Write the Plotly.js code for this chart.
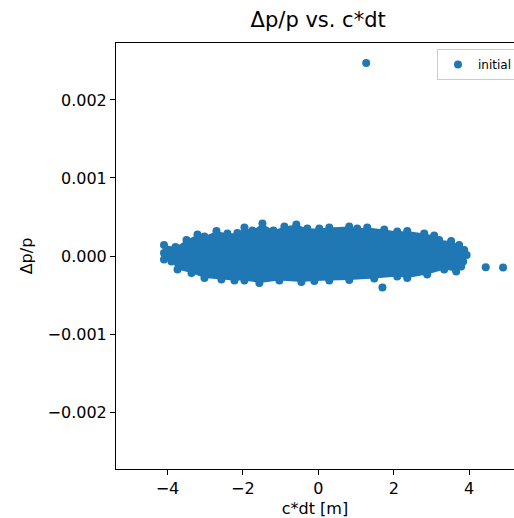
<!DOCTYPE html>
<html>
<head>
<meta charset="utf-8">
<script src="https://cdn.plot.ly/plotly-3.0.1.min.js"></script>
<style>html,body{margin:0;padding:0;background:#fff;overflow:hidden}</style>
</head>
<body>
<div id="chart" style="width:514px;height:518px"></div>
<script>
// Outline of the dense particle cloud (marker centres)
const cloudX = [-4.093, -3.788, -3.497, -3.205, -3.020, -2.702, -2.411, -2.146, -1.960, -1.748,
  -1.483, -1.192, -0.901, -0.583, -0.291, 0.026, 0.291, 0.821, 1.033, 1.298,
  1.748, 2.093, 2.358, 2.808, 3.073, 3.205, 3.523, 3.735, 3.868, 3.934,
  3.841, 3.788, 3.656, 3.338, 2.887, 2.358, 2.093, 1.483, 0.821, 0.291,
  -0.106, -0.450, -1.033, -1.563, -1.960, -2.225, -2.570, -3.020, -3.364, -3.735,
  -3.894, -4.093, -4.093];
const cloudY = [0.000141, 0.000115, 0.000205, 0.000275, 0.000249, 0.000320, 0.000288, 0.000294, 0.000365, 0.000326,
  0.000416, 0.000326, 0.000377, 0.000403, 0.000352, 0.000352, 0.000365, 0.000377, 0.000352, 0.000365,
  0.000339, 0.000313, 0.000320, 0.000288, 0.000262, 0.000205, 0.000192, 0.000141, 0.000077, 0.000013,
  -0.000070, -0.000134, -0.000198, -0.000173, -0.000237, -0.000281, -0.000262, -0.000288, -0.000307, -0.000313,
  -0.000320, -0.000333, -0.000313, -0.000345, -0.000313, -0.000313, -0.000301, -0.000281, -0.000217, -0.000173,
  -0.000070, -0.000045, 0.000038];
// Isolated particles
const outlierX = [1.27, 4.44, 4.90, 1.70];
const outlierY = [0.002474, -0.000143, -0.000147, -0.000403];
const seriesName = "initial";
const xTickVals = [-4, -2, 0, 2, 4];
const xTickText = ["\u22124", "\u22122", "0", "2", "4"];
const yTickVals = [-0.002, -0.001, 0, 0.001, 0.002];
const yTickText = ["\u22120.002", "\u22120.001", "0.000", "0.001", "0.002"];

const blue = "#1f77b4";
const font = "DejaVu Sans, sans-serif";

const traces = [
  {
    type: "scatter", mode: "markers", x: cloudX, y: cloudY,
    fill: "toself", fillcolor: blue,
    marker: {color: blue, size: 8, line: {width: 0}},
    showlegend: false, hoverinfo: "skip"
  },
  {
    type: "scatter", mode: "markers", x: outlierX, y: outlierY, name: seriesName,
    marker: {color: blue, size: 8, line: {width: 0}}
  }
];

const layout = {
  width: 514, height: 518,
  margin: {l: 116, r: 0, t: 43, b: 49, pad: 0, autoexpand: false},
  paper_bgcolor: "#fff", plot_bgcolor: "#fff",
  font: {family: font, size: 16, color: "#000"},
  title: {text: "\u0394p/p vs. c*dt", font: {family: font, size: 21, color: "#000"},
          x: 0.619, xanchor: "center", y: 0.962, yanchor: "middle", yref: "container"},
  xaxis: {
    range: [-5.366, 5.19], tickvals: xTickVals, ticktext: xTickText,
    showgrid: false, zeroline: false, showline: true, linecolor: "#000", linewidth: 1,
    mirror: true, ticks: "outside", ticklen: 5, tickcolor: "#000", tickwidth: 1,
    tickfont: {family: font, size: 16, color: "#000"},
    title: {text: "c*dt [m]", font: {family: font, size: 16, color: "#000"}, standoff: 6},
    automargin: false
  },
  yaxis: {
    range: [-0.00273, 0.00273], tickvals: yTickVals, ticktext: yTickText,
    showgrid: false, zeroline: false, showline: true, linecolor: "#000", linewidth: 1,
    ticks: "outside", ticklen: 5, tickcolor: "#000", tickwidth: 1,
    tickfont: {family: font, size: 16, color: "#000"},
    title: {text: "\u0394p/p", font: {family: font, size: 16, color: "#000"}, standoff: 10},
    automargin: false
  },
  legend: {
    x: 0.8065, y: 0.986, xanchor: "left", yanchor: "top",
    bgcolor: "#fff", bordercolor: "#cccccc", borderwidth: 1,
    font: {family: font, size: 12, color: "#000"}
  },
  showlegend: true
};

Plotly.newPlot("chart", traces, layout, {displayModeBar: false, staticPlot: true});
</script>
</body>
</html>
